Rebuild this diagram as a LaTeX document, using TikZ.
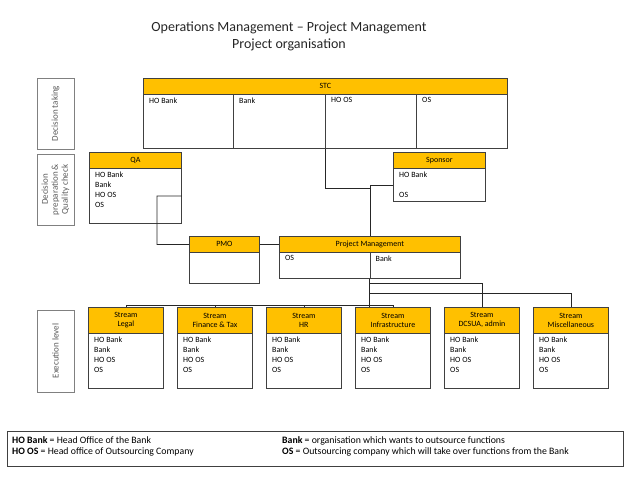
\documentclass[tikz,border=0pt]{standalone}
\usepackage{fontspec}
\setmainfont{Carlito}
\definecolor{headfill}{HTML}{FFC000}
\definecolor{boxline}{HTML}{404040}
\definecolor{lvlline}{HTML}{808080}
\definecolor{lvltext}{HTML}{595959}
\tikzset{
	head/.style={draw=boxline,fill=headfill,line width=0.8pt,anchor=north west,inner sep=0pt,align=center,font=\fontsize{8}{9}\selectfont},
	cell/.style={draw=boxline,fill=white,line width=0.8pt,anchor=north west,inner sep=0pt},
	txt/.style={anchor=north west,align=left,inner xsep=6pt,inner ysep=3.5pt,font=\fontsize{8}{10}\selectfont},
	level/.style={draw=lvlline,text=lvltext,line width=0.8pt,rotate=90,align=center,inner sep=0pt,minimum height=37pt,font=\fontsize{9}{10}\selectfont},
	link/.style={draw=black!85,line width=0.8pt},
	legtxt/.style={anchor=north west,align=left,inner sep=0pt,font=\fontsize{9.8}{11}\selectfont}
}
\begin{document}
\begin{tikzpicture}[x=1pt,y=-1pt]
\useasboundingbox (0,0) rectangle (640,480);
\node[align=center,text=black!85,font=\fontsize{14}{17}\selectfont] (title) at (289,36.5) {Operations Management – Project Management\\Project organisation};

\node[level,minimum width=71pt] (lvl1) at (55.5,113.5) {Decision taking};
\node[level,minimum width=71pt] (lvl2) at (55.5,189.5) {Decision\\preparation \&\\Quality check};
\node[level,minimum width=82pt] (lvl3) at (55.5,351) {Execution level};

\node[head,minimum width=364pt,minimum height=16pt] (stch) at (143,78) {STC};
\node[cell,minimum width=90pt,minimum height=54pt] (stc1) at (143,94) {};
\node[cell,minimum width=92pt,minimum height=54pt] (stc2) at (233,94) {};
\node[cell,minimum width=91pt,minimum height=54pt] (stc3) at (325,94) {};
\node[cell,minimum width=91pt,minimum height=54pt] (stc4) at (416,94) {};
\node[txt] at (stc1.north west) {HO Bank};
\node[txt] at (stc2.north west) {Bank};
\node[txt] at (stc3.north west) {HO OS};
\node[txt] at (stc4.north west) {OS};

\node[head,minimum width=92pt,minimum height=16pt] (qah) at (89,152) {QA};
\node[cell,minimum width=92pt,minimum height=55pt] (qab) at (89,168) {};
\node[txt] at (qab.north west) {HO Bank\\Bank\\HO OS\\OS};

\node[head,minimum width=92pt,minimum height=16pt] (sph) at (393,152) {Sponsor};
\node[cell,minimum width=92pt,minimum height=33pt] (spb) at (393,168) {};
\node[txt] at (spb.north west) {HO Bank\\[10pt]OS};

\node[head,minimum width=70pt,minimum height=16pt] (pmoh) at (189,236) {PMO};
\node[cell,minimum width=70pt,minimum height=31pt] (pmob) at (189,252) {};

\node[head,minimum width=181pt,minimum height=16pt] (pmh) at (279,236) {Project Management};
\node[cell,minimum width=90.5pt,minimum height=26pt] (pm1) at (279,252) {};
\node[cell,minimum width=90.5pt,minimum height=26pt] (pm2) at (369.5,252) {};
\node[txt] at (pm1.north west) {OS};
\node[txt] at (pm2.north west) {Bank};

\node[head,minimum width=75pt,minimum height=26pt] (legalh) at (88,307) {Stream\\Legal};
\node[cell,minimum width=75pt,minimum height=55pt] (legalb) at (88,333) {};
\node[txt] at (legalb.north west) {HO Bank\\Bank\\HO OS\\OS};
\node[head,minimum width=75pt,minimum height=26pt] (finh) at (177,307) {Stream\\Finance \& Tax};
\node[cell,minimum width=75pt,minimum height=55pt] (finb) at (177,333) {};
\node[txt] at (finb.north west) {HO Bank\\Bank\\HO OS\\OS};
\node[head,minimum width=75pt,minimum height=26pt] (hrh) at (266,307) {Stream\\HR};
\node[cell,minimum width=75pt,minimum height=55pt] (hrb) at (266,333) {};
\node[txt] at (hrb.north west) {HO Bank\\Bank\\HO OS\\OS};
\node[head,minimum width=75pt,minimum height=26pt] (infrah) at (355,307) {Stream\\Infrastructure};
\node[cell,minimum width=75pt,minimum height=55pt] (infrab) at (355,333) {};
\node[txt] at (infrab.north west) {HO Bank\\Bank\\HO OS\\OS};
\node[head,minimum width=75pt,minimum height=26pt] (dcsuah) at (444,307) {Stream\\DCSUA, admin};
\node[cell,minimum width=75pt,minimum height=55pt] (dcsuab) at (444,333) {};
\node[txt] at (dcsuab.north west) {HO Bank\\Bank\\HO OS\\OS};
\node[head,minimum width=75pt,minimum height=26pt] (misch) at (533,307) {Stream\\Miscellaneous};
\node[cell,minimum width=75pt,minimum height=55pt] (miscb) at (533,333) {};
\node[txt] at (miscb.north west) {HO Bank\\Bank\\HO OS\\OS};

\coordinate (j1) at (369.5,188);
\coordinate (q1) at (157,196);
\draw[link] (stc3.south west) |- (j1);
\draw[link] (spb.west) -| (pmh.north);
\draw[link] (qab.east) -- (q1) |- (pmoh.west);
\draw[link] (pmoh.east) -- (pmh.west);
\draw[link] (pm2.south west) -- (pm2.south west |- infrah.north);
\draw[link] (legalh.north) -- ++(0,-2) -| (infrah.north);
\draw[link] (finh.north) -- ++(0,-2);
\draw[link] (hrh.north) -- ++(0,-2);
\draw[link] (pm2.south west) ++(0,5) -| (dcsuah.north);
\draw[link] (pm2.south west) ++(0,15) -| (misch.north);

\node[cell,minimum width=616pt,minimum height=35pt] (legend) at (7,431) {};
\node[legtxt] (legl) at (12,436) {\textbf{HO Bank} = Head Office of the Bank\\\textbf{HO OS} = Head office of Outsourcing Company};
\node[legtxt] (legr) at (282,436) {\textbf{Bank} = organisation which wants to outsource functions\\\textbf{OS} = Outsourcing company which will take over functions from the Bank};
\end{tikzpicture}
\end{document}
